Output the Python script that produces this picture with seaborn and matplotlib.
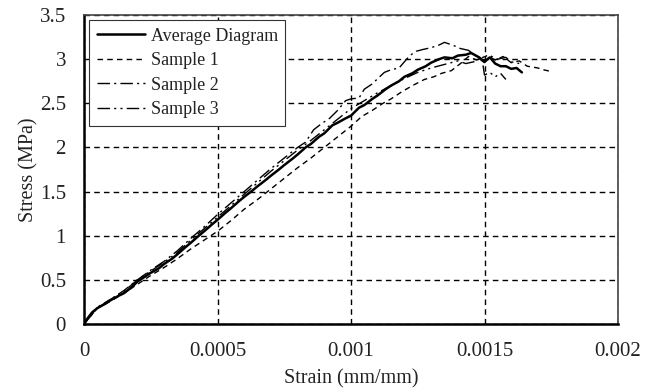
import matplotlib
matplotlib.use("Agg")
import matplotlib.pyplot as plt
import seaborn as sns
import pandas as pd

# ---- data ----
avg_strain = [0, 0.00001, 0.00003, 0.00005, 0.00008, 0.0001, 0.00013, 0.00015, 0.00018, 0.0002,
              0.00023, 0.00025, 0.00028, 0.0003, 0.00033, 0.00035, 0.00038, 0.0004, 0.00043, 0.00045,
              0.00048, 0.0005, 0.00053, 0.00055, 0.00058, 0.0006, 0.00063, 0.00065, 0.00068, 0.0007,
              0.00073, 0.00075, 0.00078, 0.0008, 0.00083, 0.00085, 0.00088, 0.0009, 0.00093, 0.00095,
              0.00098, 0.001, 0.00103, 0.00105, 0.00108, 0.0011, 0.00113, 0.00115, 0.00118, 0.0012,
              0.00123, 0.00125, 0.00128, 0.0013, 0.00133, 0.00135, 0.00138, 0.0014, 0.00143, 0.00145,
              0.00148, 0.0015, 0.00152, 0.00154, 0.00156, 0.00158, 0.0016, 0.00162, 0.00164]
avg_stress = [0, 0.05, 0.13, 0.18, 0.23, 0.27, 0.32, 0.35, 0.42, 0.48,
              0.54, 0.58, 0.63, 0.68, 0.74, 0.79, 0.87, 0.92, 1.0, 1.05,
              1.13, 1.18, 1.26, 1.31, 1.39, 1.44, 1.51, 1.56, 1.63, 1.68,
              1.75, 1.8, 1.87, 1.92, 2.0, 2.04, 2.12, 2.16, 2.25, 2.28,
              2.33, 2.36, 2.45, 2.48, 2.55, 2.59, 2.66, 2.7, 2.75, 2.8,
              2.84, 2.88, 2.92, 2.96, 3.0, 3.02, 3.01, 3.04, 3.05, 3.07,
              3.02, 2.97, 3.02, 2.95, 2.92, 2.92, 2.89, 2.9, 2.85]

s1_strain = [0, 0.00005, 0.0001, 0.00015, 0.0002, 0.00025, 0.0003, 0.00035, 0.0004, 0.00045,
             0.0005, 0.00055, 0.0006, 0.00065, 0.0007, 0.00075, 0.0008, 0.00085, 0.0009, 0.00095,
             0.001, 0.00104, 0.00108, 0.00112, 0.00115, 0.00119, 0.00123, 0.001275, 0.00131, 0.00134,
             0.001376, 0.00141, 0.00144, 0.00147, 0.00151, 0.00154, 0.00157, 0.0016, 0.00163, 0.00166,
             0.0017, 0.00172, 0.00175]
s1_stress = [0, 0.18, 0.26, 0.35, 0.45, 0.55, 0.64, 0.74, 0.85, 0.95,
             1.05, 1.17, 1.3, 1.41, 1.53, 1.65, 1.77, 1.88, 2.0, 2.12,
             2.24, 2.35, 2.42, 2.5, 2.55, 2.63, 2.7, 2.77, 2.8, 2.84,
             2.87, 2.95, 3.03, 2.99, 3.04, 2.99, 3.03, 2.96, 2.98, 2.92,
             2.9, 2.88, 2.86]

s2_strain = [0, 0.00005, 0.0001, 0.00015, 0.0002, 0.00025, 0.0003, 0.00035, 0.0004, 0.00045,
             0.0005, 0.00055, 0.0006, 0.00065, 0.0007, 0.00075, 0.0008, 0.00083, 0.00086, 0.00089,
             0.00092, 0.00095, 0.00098, 0.001, 0.00103, 0.00105, 0.00108, 0.0011, 0.001125, 0.00115,
             0.00118, 0.0012, 0.00122, 0.001245, 0.00127, 0.0013, 0.00133, 0.00135, 0.00138, 0.00141,
             0.00144, 0.00147, 0.0015, 0.00152, 0.00155, 0.00158, 0.0016, 0.00163]
s2_stress = [0, 0.18, 0.28, 0.38, 0.5, 0.61, 0.71, 0.83, 0.97, 1.1,
             1.24, 1.37, 1.5, 1.63, 1.76, 1.88, 2.0, 2.06, 2.2, 2.27,
             2.33, 2.42, 2.53, 2.55, 2.56, 2.66, 2.72, 2.78, 2.85, 2.88,
             2.9, 2.97, 3.04, 3.09, 3.11, 3.13, 3.16, 3.19, 3.16, 3.12,
             3.1, 3.03, 2.96, 3.04, 3.0, 3.02, 2.97, 2.95]

s3_strain = [0, 0.00005, 0.0001, 0.00015, 0.0002, 0.00025, 0.0003, 0.00035, 0.0004, 0.00045,
             0.0005, 0.00055, 0.0006, 0.00065, 0.0007, 0.00075, 0.0008, 0.00085, 0.0009, 0.00095,
             0.001, 0.00105, 0.0011, 0.00115, 0.0012, 0.00125, 0.0013, 0.00135, 0.0014, 0.00143,
             0.00146, 0.00149, 0.0015, 0.00152, 0.00154, 0.00156, 0.00158]
s3_stress = [0, 0.19, 0.28, 0.37, 0.5, 0.6, 0.7, 0.81, 0.95, 1.08,
             1.21, 1.34, 1.47, 1.6, 1.73, 1.85, 1.97, 2.08, 2.2, 2.32,
             2.44, 2.53, 2.62, 2.7, 2.78, 2.85, 2.9, 2.94, 2.98, 2.95,
             2.97, 3.02, 2.82, 2.85, 2.8, 2.84, 2.77]

labels = ["Average Diagram", "Sample 1", "Sample 2", "Sample 3"]
x_ticks = [0, 0.0005, 0.001, 0.0015, 0.002]
x_ticklabels = ["0", "0.0005", "0.001", "0.0015", "0.002"]
y_ticks = [0, 0.5, 1, 1.5, 2, 2.5, 3, 3.5]
y_ticklabels = ["0", "0.5", "1", "1.5", "2", "2.5", "3", "3.5"]

# ---- style ----
sns.set_style("white")
plt.rcParams["font.family"] = ["Liberation Serif", "DejaVu Serif"]

fig = plt.figure(figsize=(6.59, 3.89), dpi=100)
ax = fig.add_axes([84 / 659, 1 - 324 / 389, (618 - 84) / 659, (324 - 15) / 389])

series = [
    (avg_strain, avg_stress, "-", 1.8),
    (s1_strain, s1_stress, (0, (4, 3)), 1.0),
    (s2_strain, s2_stress, (0, (9, 3, 1.5, 3)), 1.0),
    (s3_strain, s3_stress, (0, (9, 3, 1.5, 3, 1.5, 3)), 1.0),
]
for (xs, ys, ls, lw), lab in zip(series, labels):
    df = pd.DataFrame({"strain": xs, "stress": ys})
    sns.lineplot(data=df, x="strain", y="stress", ax=ax, color="black",
                 linestyle=ls, linewidth=lw, label=lab, sort=False,
                 estimator=None, zorder=3)

ax.set_xlim(0, 0.002)
ax.set_ylim(0, 3.5)
ax.set_xticks(x_ticks)
ax.set_xticklabels(x_ticklabels)
ax.set_yticks(y_ticks)
ax.set_yticklabels(y_ticklabels)
ax.tick_params(axis="x", labelsize=15, colors="#222222", length=0, pad=13)
ax.tick_params(axis="y", labelsize=15, labelcolor="#222222", direction="in",
               length=4, width=1, color="black", pad=13)

ax.grid(True, color="black", linestyle=(0, (4, 3)), linewidth=1.0, zorder=1)

for side in ["left", "bottom"]:
    ax.spines[side].set_color("black")
    ax.spines[side].set_linewidth(1.8)
for side in ["top", "right"]:
    ax.spines[side].set_color("#444444")
    ax.spines[side].set_linewidth(1.2)
    ax.spines[side].set_visible(True)

ax.set_xlabel("Strain (mm/mm)", fontsize=14.5, color="#222222", labelpad=6)
ax.set_ylabel("Stress (MPa)", fontsize=14.5, color="#222222", labelpad=1)

leg = ax.legend(loc="upper left", fontsize=13, frameon=True, fancybox=False,
                edgecolor="#333333", framealpha=1, borderaxespad=0.3,
                handlelength=2.7, labelspacing=0.42, borderpad=0.4, handletextpad=0.3)
leg.get_frame().set_linewidth(0.8)
for t in leg.get_texts():
    t.set_color("#222222")

fig.savefig("out.png", dpi=100)
